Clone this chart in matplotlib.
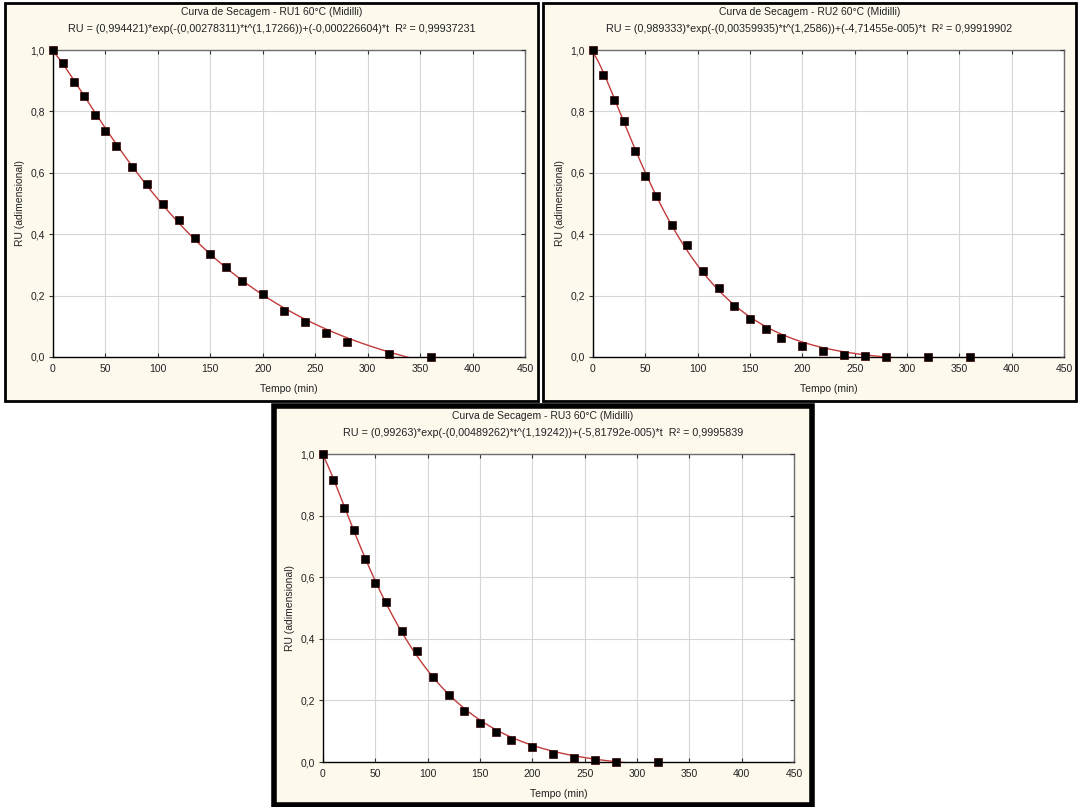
import numpy as np
import matplotlib.pyplot as plt
from matplotlib.patches import Rectangle

plt.rcParams['font.family'] = ['Liberation Sans', 'DejaVu Sans']

# measured drying data (time in min, dimensionless moisture ratio)
tempo_12 = [0, 10, 20, 30, 40, 50, 60, 75, 90, 105, 120, 135, 150, 165, 180,
            200, 220, 240, 260, 280, 320, 360]
tempo_3 = [0, 10, 20, 30, 40, 50, 60, 75, 90, 105, 120, 135, 150, 165, 180,
           200, 220, 240, 260, 280, 320]

ru1 = [1.0, 0.957, 0.897, 0.849, 0.789, 0.735, 0.686, 0.618, 0.565, 0.499,
       0.446, 0.386, 0.337, 0.293, 0.249, 0.205, 0.150, 0.114, 0.079, 0.049,
       0.011, 0.0]
ru2 = [1.0, 0.920, 0.836, 0.769, 0.672, 0.588, 0.523, 0.430, 0.366, 0.281,
       0.224, 0.166, 0.125, 0.092, 0.062, 0.037, 0.018, 0.008, 0.002, 0.0,
       0.0, 0.0]
ru3 = [1.0, 0.916, 0.824, 0.752, 0.658, 0.582, 0.518, 0.425, 0.361, 0.276,
       0.219, 0.165, 0.128, 0.098, 0.071, 0.050, 0.027, 0.013, 0.006, 0.001,
       0.0]

# Midilli fit parameters shown in each chart subtitle: a, k, n, b
midilli_1 = [0.994421, 0.00278311, 1.17266, -0.000226604]
midilli_2 = [0.989333, 0.00359935, 1.2586, -4.71455e-05]
midilli_3 = [0.99263, 0.00489262, 1.19242, -5.81792e-05]

titulos = ['Curva de Secagem - RU1 60°C (Midilli)',
           'Curva de Secagem - RU2 60°C (Midilli)',
           'Curva de Secagem - RU3 60°C (Midilli)']
equacoes = ['RU = (0,994421)*exp(-(0,00278311)*t^(1,17266))+(-0,000226604)*t  R² = 0,99937231',
            'RU = (0,989333)*exp(-(0,00359935)*t^(1,2586))+(-4,71455e-005)*t  R² = 0,99919902',
            'RU = (0,99263)*exp(-(0,00489262)*t^(1,19242))+(-5,81792e-005)*t  R² = 0,9995839']

xticks = [0, 50, 100, 150, 200, 250, 300, 350, 400, 450]
yticks = [0.0, 0.2, 0.4, 0.6, 0.8, 1.0]
ytick_labels = ['0,0', '0,2', '0,4', '0,6', '0,8', '1,0']

W, H = 1078, 807
CREAM = '#fdf9ed'
FS = 7.5


def midilli(t, p):
    a, k, n, b = p
    return a * np.exp(-k * t ** n) + b * t


def frame(fig, x0, y0, x1, y1, lw):
    fig.patches.append(Rectangle((x0 / W, 1 - y1 / H), (x1 - x0) / W, (y1 - y0) / H,
                                 transform=fig.transFigure, facecolor=CREAM,
                                 edgecolor='black', linewidth=lw, zorder=-5))


def panel(fig, box, frame_box, lw, tempo, ru, params, titulo, equacao):
    fx0, fy0, fx1, fy1 = frame_box
    frame(fig, fx0, fy0, fx1, fy1, lw)
    x0, y0, x1, y1 = box
    ax = fig.add_axes([x0 / W, 1 - y1 / H, (x1 - x0) / W, (y1 - y0) / H])
    ax.set_zorder(2)
    ax.set_facecolor('white')

    tt = np.linspace(0, 450, 600)
    ax.plot(tt, midilli(tt, params), color='#c23b3b', lw=1.0, zorder=3)
    ax.plot(tempo, ru, ls='none', marker='s', ms=5.2, mfc='black', mec='#3a0000',
            mew=0.5, zorder=4, clip_on=False)

    ax.set_xlim(0, 450)
    ax.set_ylim(0, 1.0)
    ax.set_xticks(xticks)
    ax.set_yticks(yticks)
    ax.set_yticklabels(ytick_labels)
    ax.grid(True, color='#d6d6d6', lw=0.8)
    ax.set_axisbelow(True)
    ax.tick_params(axis='x', direction='in', length=3, top=True, labelsize=FS,
                   pad=5, colors='#333333', labelcolor='#222222')
    ax.tick_params(axis='y', direction='out', length=3, labelsize=FS,
                   pad=3, colors='#333333', labelcolor='#222222')
    for s in ['left', 'bottom']:
        ax.spines[s].set_color('black')
        ax.spines[s].set_linewidth(1.0)
    for s in ['top', 'right']:
        ax.spines[s].set_color('#6e6e6e')
        ax.spines[s].set_linewidth(1.0)

    # inward ticks on the right edge
    axr = ax.twinx()
    axr.set_ylim(0, 1.0)
    axr.set_yticks(yticks)
    axr.tick_params(axis='y', direction='in', length=3, labelright=False,
                    colors='#333333')
    for s in axr.spines.values():
        s.set_visible(False)

    ax.set_xlabel('Tempo (min)', fontsize=FS, labelpad=7, color='#222222')
    ax.set_ylabel('RU (adimensional)', fontsize=FS, labelpad=4, color='#222222')

    cx = (fx0 + fx1) / 2
    fig.text(cx / W, 1 - (y0 - 38) / H, titulo, ha='center', va='center',
             fontsize=FS, color='#222222')
    fig.text(cx / W, 1 - (y0 - 21) / H, equacao, ha='center', va='center',
             fontsize=7.75, color='#222222')
    return ax


fig = plt.figure(figsize=(W / 100, H / 100), dpi=100)
fig.patch.set_facecolor('white')

panel(fig, (53, 50, 525, 357), (5, 3, 538, 401), 2.0,
      tempo_12, ru1, midilli_1, titulos[0], equacoes[0])
panel(fig, (593, 50, 1064, 357), (543, 3, 1076, 401), 2.0,
      tempo_12, ru2, midilli_2, titulos[1], equacoes[1])
panel(fig, (323, 454, 794, 762), (274, 406, 812, 805), 4.0,
      tempo_3, ru3, midilli_3, titulos[2], equacoes[2])

fig.savefig('out.png', dpi=100, facecolor='white')
